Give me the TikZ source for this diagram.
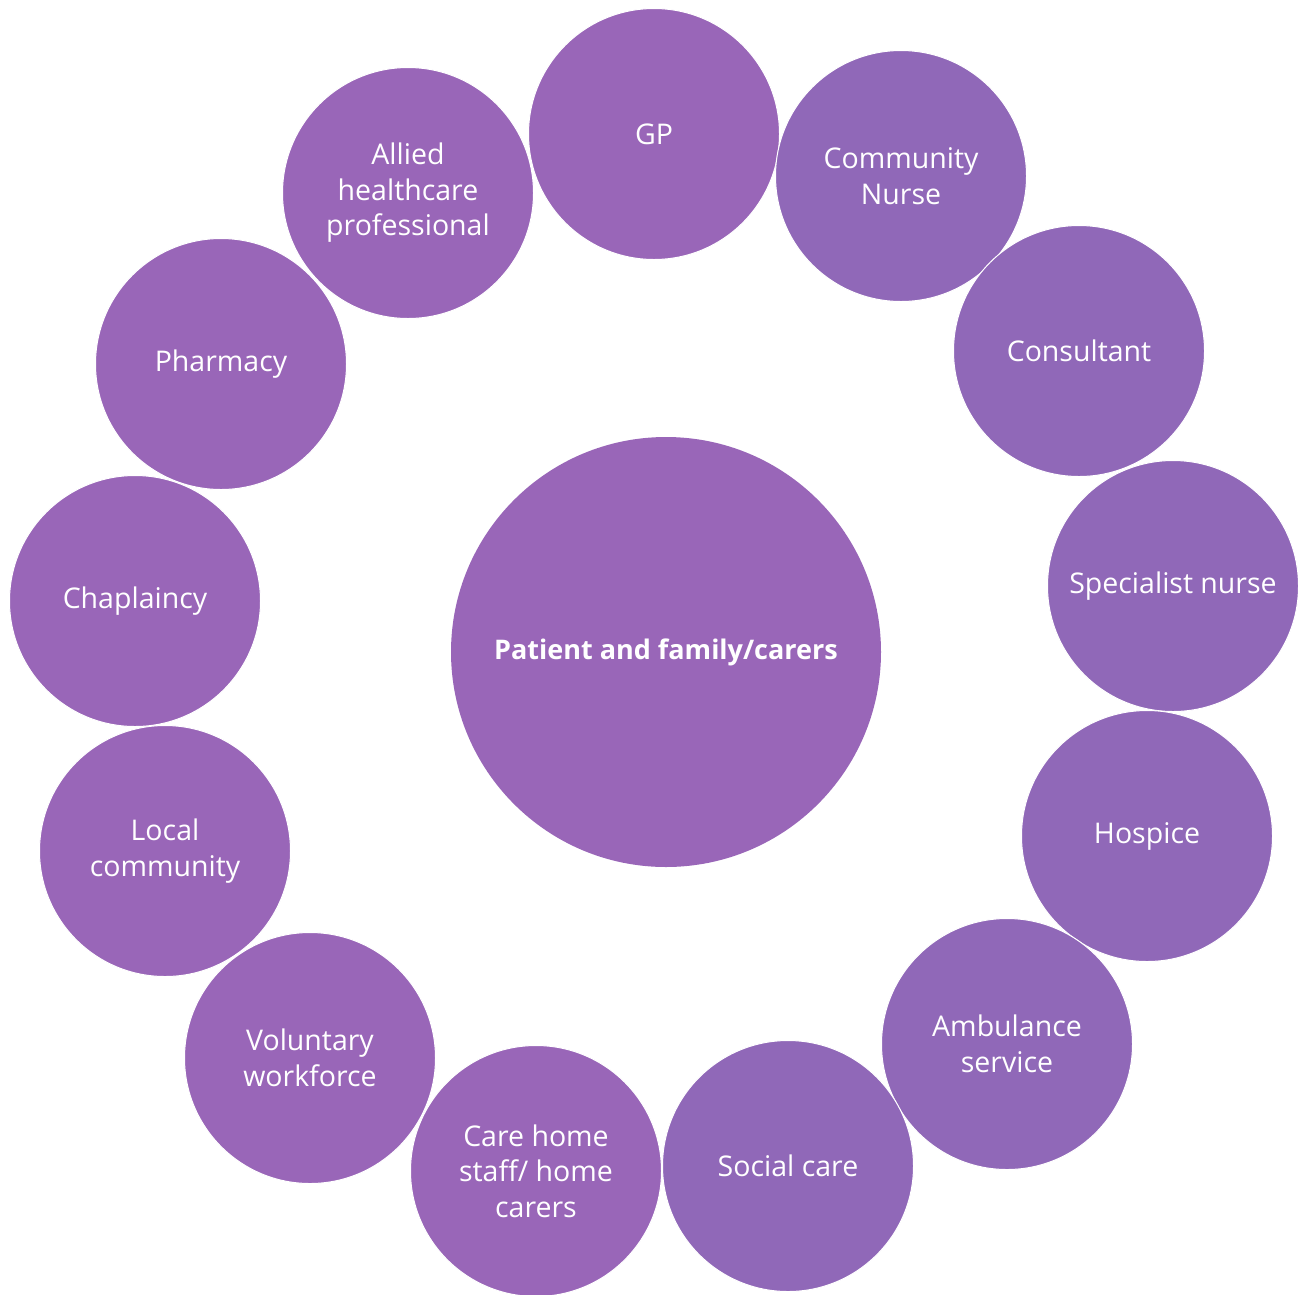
\documentclass[tikz,border=0pt]{standalone}
\usepackage{fontspec}
\setmainfont{Open Sans}
\usetikzlibrary{positioning}

\definecolor{lilacA}{RGB}{153,102,184}
\definecolor{lilacB}{RGB}{144,104,184}

\tikzset{
  team/.style={circle,draw=white,line width=1pt,fill=lilacA,minimum size=251pt,
    inner sep=0pt,text=white,align=center,font=\fontsize{28.5}{35.5}\selectfont},
  teamB/.style={team,fill=lilacB},
  patient/.style={circle,fill=lilacA,minimum size=430pt,inner sep=0pt,
    text=white,font=\fontsize{27}{35}\selectfont\bfseries}
}

\begin{document}
\begin{tikzpicture}[x=1pt,y=-1pt]
      \useasboundingbox (0,0) rectangle (1298,1294);
      % centre
      \node[patient] (patient) at (666,652) {Patient and family/carers};
      % left side of the ring
      \foreach \px/\py/\nm/\txt in {654/134/gp/GP,
          408/193/allied/{Allied\\healthcare\\professional},
          221/364/pharmacy/Pharmacy,
          135/601/chaplaincy/Chaplaincy,
          165/851/local/{Local\\community},
          310/1058/voluntary/{Voluntary\\workforce},
          536/1171/carehome/{Care home\\staff/ home\\carers}}
      \node[team] (\nm) at (\px,\py) {\txt};
      % right side of the ring
      \foreach \px/\py/\nm/\txt in {901/176/nurse/{Community\\Nurse},
          1079/351/consultant/Consultant,
          1173/586/specialist/Specialist nurse,
          1147/836/hospice/Hospice,
          1007/1044/ambulance/{Ambulance\\service},
          788/1166/social/Social care}
      \node[teamB] (\nm) at (\px,\py) {\txt};
    \end{tikzpicture}
\end{document}
